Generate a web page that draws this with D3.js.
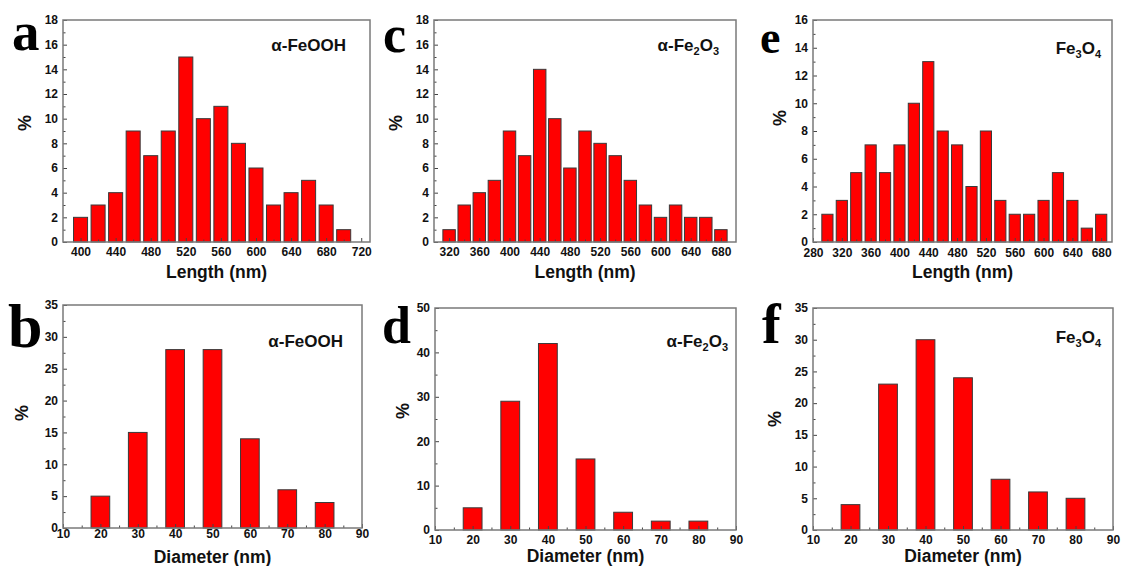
<!DOCTYPE html>
<html>
<head>
<meta charset="utf-8">
<script src="https://cdn.jsdelivr.net/npm/d3@7"></script>
<style>
  body { margin: 0; background: #fff; }
  text { font-family: Arial, "Liberation Sans", sans-serif; font-weight: bold; }
</style>
</head>
<body>
<div id="chart"></div>
<script>
// length histograms (bin centre, %)
var lenA = [400, 420, 440, 460, 480, 500, 520, 540, 560, 580, 600, 620, 640, 660, 680, 700];
var pctA = [2, 3, 4, 9, 7, 9, 15, 10, 11, 8, 6, 3, 4, 5, 3, 1];

var lenC = [320, 340, 360, 380, 400, 420, 440, 460, 480, 500, 520, 540, 560, 580, 600, 620, 640, 660, 680];
var pctC = [1, 3, 4, 5, 9, 7, 14, 10, 6, 9, 8, 7, 5, 3, 2, 3, 2, 2, 1];

var lenE = [300, 320, 340, 360, 380, 400, 420, 440, 460, 480, 500, 520, 540, 560, 580, 600, 620, 640, 660, 680];
var pctE = [2, 3, 5, 7, 5, 7, 10, 13, 8, 7, 4, 8, 3, 2, 2, 3, 5, 3, 1, 2];

// diameter histograms
var diam = [20, 30, 40, 50, 60, 70, 80];
var pctB = [5, 15, 28, 28, 14, 6, 4];
var pctD = [5, 29, 42, 16, 4, 2, 2];
var pctF = [4, 23, 30, 24, 8, 6, 5];

// tick values
var xTicksA = [400, 440, 480, 520, 560, 600, 640, 680, 720];
var xTicksC = [320, 360, 400, 440, 480, 520, 560, 600, 640, 680];
var xTicksE = [280, 320, 360, 400, 440, 480, 520, 560, 600, 640, 680];
var xTicksD = [10, 20, 30, 40, 50, 60, 70, 80, 90];

var svg = d3.select("#chart").append("svg")
  .attr("width", 1121)
  .attr("height", 566);

var panels = [
  { letter: "a", size: 55, lx: 12, ly: 50, x0: 63, x1: 370, y0: 20, y1: 242,
    xdom: [380, 730], ydom: [0, 18], ystep: 2, xt: xTicksA, xminor: 20, bw: 16,
    cats: lenA, vals: pctA, name: ["α-FeOOH"], nx: 346, ny: 51,
    xtitle: "Length (nm)", tty: 278, pctx: 25, pcty: 123, xpad: 5 },
  { letter: "c", size: 52, lx: 383, ly: 52, x0: 434, x1: 736, y0: 20, y1: 242,
    xdom: [300, 700], ydom: [0, 18], ystep: 2, xt: xTicksC, xminor: 20, bw: 16.5,
    cats: lenC, vals: pctC, name: ["α-Fe", "2", "O", "3"], nx: 719, ny: 51,
    xtitle: "Length (nm)", tty: 278, pctx: 396, pcty: 123, xpad: 5 },
  { letter: "e", size: 46, lx: 760, ly: 53, x0: 813, x1: 1112, y0: 20, y1: 242,
    xdom: [280, 695], ydom: [0, 16], ystep: 2, xt: xTicksE, xminor: 20, bw: 15.5,
    cats: lenE, vals: pctE, name: ["Fe", "3", "O", "4"], nx: 1101, ny: 54,
    xtitle: "Length (nm)", tty: 278, pctx: 780, pcty: 118, xpad: 6 },
  { letter: "b", size: 62, lx: 8, ly: 347, x0: 63, x1: 362, y0: 305, y1: 528,
    xdom: [10, 90], ydom: [0, 35], ystep: 5, xt: xTicksD, xminor: 5, bw: 5,
    cats: diam, vals: pctB, name: ["α-FeOOH"], nx: 343, ny: 347,
    xtitle: "Diameter (nm)", tty: 563, pctx: 22, pcty: 413, xpad: 1 },
  { letter: "d", size: 52, lx: 382, ly: 343, x0: 435, x1: 736, y0: 308, y1: 530,
    xdom: [10, 90], ydom: [0, 50], ystep: 10, xt: xTicksD, xminor: 5, bw: 5,
    cats: diam, vals: pctD, name: ["α-Fe", "2", "O", "3"], nx: 728, ny: 347,
    xtitle: "Diameter (nm)", tty: 562, pctx: 403, pcty: 411, xpad: 5 },
  { letter: "f", size: 56, lx: 762, ly: 343, x0: 813, x1: 1113, y0: 308, y1: 530,
    xdom: [10, 90], ydom: [0, 35], ystep: 5, xt: xTicksD, xminor: 5, bw: 5,
    cats: diam, vals: pctF, name: ["Fe", "3", "O", "4"], nx: 1101, ny: 343,
    xtitle: "Diameter (nm)", tty: 562, pctx: 775, pcty: 419, xpad: 5 }
];

panels.forEach(function (p) {
  var g = svg.append("g");
  var x = d3.scaleLinear().domain(p.xdom).range([p.x0, p.x1]);
  var y = d3.scaleLinear().domain(p.ydom).range([p.y1, p.y0]);

  // bars
  g.selectAll("rect.bar")
    .data(p.vals)
    .enter().append("rect")
    .attr("class", "bar")
    .attr("x", function (d, i) { return x(p.cats[i] - p.bw / 2); })
    .attr("width", function (d, i) { return x(p.cats[i] + p.bw / 2) - x(p.cats[i] - p.bw / 2); })
    .attr("y", function (d) { return y(d); })
    .attr("height", function (d) { return y(0) - y(d); })
    .attr("fill", "#ff0000")
    .attr("stroke", "#3a3a3a")
    .attr("stroke-width", 1);

  // major / minor tick positions
  var ymaj = d3.range(p.ydom[0], p.ydom[1] + 0.001, p.ystep);
  var ymin = d3.range(p.ydom[0] + p.ystep / 2, p.ydom[1], p.ystep);
  var xmin = d3.range(p.xt[0] - p.xminor, p.xdom[1], p.xminor * 2)
    .filter(function (v) { return v > p.xdom[0] && v < p.xdom[1]; });

  g.append("g")
    .attr("transform", "translate(0," + p.y1 + ")")
    .call(d3.axisBottom(x).tickValues(p.xt).tickSize(-4).tickPadding(p.xpad).tickFormat(d3.format("d")));
  g.append("g")
    .attr("transform", "translate(0," + p.y1 + ")")
    .call(d3.axisBottom(x).tickValues(xmin).tickSize(-2.5).tickFormat(""));

  g.append("g")
    .attr("transform", "translate(" + p.x0 + ",0)")
    .call(d3.axisLeft(y).tickValues(ymaj).tickSize(-4).tickPadding(5).tickFormat(d3.format("d")));
  g.append("g")
    .attr("transform", "translate(" + p.x0 + ",0)")
    .call(d3.axisLeft(y).tickValues(ymin).tickSize(-2.5).tickFormat(""));

  g.selectAll(".domain").remove();
  g.selectAll(".tick line").attr("stroke", "#444").attr("stroke-width", 1);
  g.selectAll(".tick text")
    .attr("fill", "#111")
    .style("font-size", "12px")
    .style("font-weight", "bold")
    .style("font-family", "Arial, 'Liberation Sans', sans-serif");

  // frame
  g.append("rect")
    .attr("x", p.x0).attr("y", p.y0)
    .attr("width", p.x1 - p.x0).attr("height", p.y1 - p.y0)
    .attr("fill", "none")
    .attr("stroke", "#7a7a7a")
    .attr("stroke-width", 1.5);

  // panel letter
  g.append("text")
    .attr("x", p.lx).attr("y", p.ly)
    .style("font-family", "'Times New Roman', 'Liberation Serif', serif")
    .style("font-size", p.size + "px")
    .attr("fill", "#000")
    .text(p.letter);

  // sample name
  var t = g.append("text")
    .attr("x", p.nx).attr("y", p.ny)
    .attr("text-anchor", "end")
    .style("font-size", "17px")
    .attr("fill", "#111");
  p.name.forEach(function (s, i) {
    var sub = i % 2 === 1;
    t.append("tspan")
      .attr("dy", i === 0 ? 0 : (sub ? 4 : -4))
      .style("font-size", sub ? "11px" : "17px")
      .text(s);
  });

  // axis titles
  g.append("text")
    .attr("x", (p.x0 + p.x1) / 2).attr("y", p.tty)
    .attr("text-anchor", "middle")
    .style("font-size", "17.5px")
    .attr("fill", "#111")
    .text(p.xtitle);

  g.append("text")
    .attr("transform", "translate(" + p.pctx + "," + p.pcty + ") rotate(-90)")
    .attr("text-anchor", "middle")
    .attr("dy", "0.35em")
    .style("font-size", "18px")
    .attr("fill", "#111")
    .text("%");
});
</script>
</body>
</html>
